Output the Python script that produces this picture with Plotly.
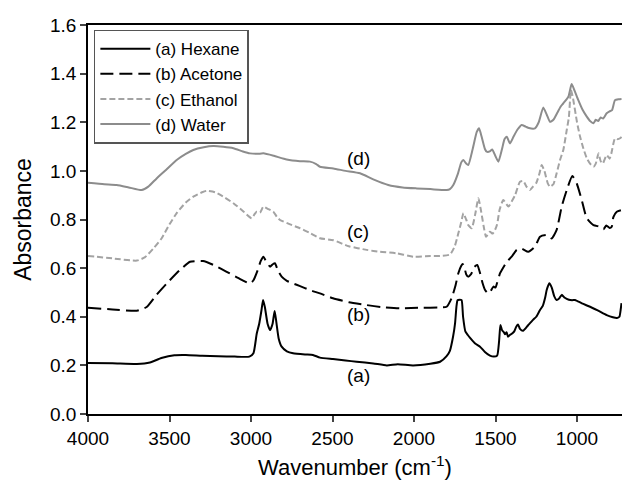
import plotly.graph_objects as go

# (a) Hexane
wn_a = [4000, 3850, 3700, 3620, 3550, 3470, 3400, 3300, 3200, 3100, 3010, 2985, 2965, 2950, 2935, 2926,
        2915, 2898, 2883, 2868, 2855, 2845, 2830, 2812, 2780, 2742, 2669, 2620, 2577, 2497, 2420, 2352,
        2250, 2167, 2100, 2006, 1900, 1840, 1800, 1780, 1760, 1748, 1740, 1733, 1720, 1708, 1699, 1685,
        1670, 1656, 1625, 1595, 1565, 1534, 1510, 1490, 1478, 1470, 1460, 1448, 1442, 1432, 1423, 1412,
        1400, 1385, 1372, 1362, 1350, 1331, 1300, 1270, 1250, 1227, 1210, 1195, 1186, 1170, 1155, 1140,
        1125, 1110, 1094, 1075, 1050, 1030, 1012, 970, 920, 870, 818, 780, 755, 740, 732, 727]
ab_a = [0.210, 0.209, 0.206, 0.212, 0.230, 0.242, 0.243, 0.240, 0.238, 0.236, 0.236, 0.250, 0.330, 0.370, 0.430, 0.469,
        0.440, 0.370, 0.345, 0.370, 0.424, 0.380, 0.310, 0.277, 0.258, 0.250, 0.245, 0.243, 0.232, 0.226, 0.220, 0.215,
        0.208, 0.200, 0.205, 0.200, 0.207, 0.215, 0.238, 0.260, 0.320, 0.374, 0.440, 0.468, 0.470, 0.468, 0.400, 0.340,
        0.325, 0.313, 0.290, 0.277, 0.255, 0.240, 0.236, 0.240, 0.300, 0.366, 0.345, 0.335, 0.328, 0.336, 0.318, 0.325,
        0.330, 0.340, 0.360, 0.368, 0.350, 0.342, 0.365, 0.387, 0.400, 0.428, 0.445, 0.480, 0.510, 0.538, 0.520, 0.485,
        0.469, 0.475, 0.490, 0.478, 0.470, 0.468, 0.469, 0.455, 0.441, 0.425, 0.407, 0.398, 0.395, 0.400, 0.430, 0.456]

# (b) Acetone
wn_b = [4000, 3850, 3700, 3640, 3580, 3517, 3440, 3374, 3294, 3220, 3149, 3080, 3006, 2985, 2960, 2940, 2924,
        2905, 2883, 2868, 2853, 2835, 2812, 2780, 2742, 2699, 2640, 2577, 2497, 2400, 2290, 2200, 2086, 1950,
        1850, 1800, 1769, 1745, 1728, 1710, 1701, 1690, 1680, 1668, 1650, 1630, 1612, 1595, 1580, 1564, 1544,
        1530, 1513, 1500, 1490, 1472, 1455, 1431, 1401, 1370, 1340, 1299, 1258, 1227, 1186, 1155, 1125, 1094,
        1063, 1029, 1002, 971, 940, 899, 858, 838, 820, 800, 787, 777, 756, 727]
ab_b = [0.437, 0.430, 0.425, 0.440, 0.490, 0.537, 0.590, 0.626, 0.629, 0.610, 0.585, 0.560, 0.537, 0.550, 0.590, 0.630, 0.647,
        0.625, 0.606, 0.615, 0.620, 0.590, 0.565, 0.548, 0.537, 0.526, 0.510, 0.496, 0.476, 0.460, 0.448, 0.440, 0.435, 0.437,
        0.438, 0.441, 0.477, 0.530, 0.579, 0.610, 0.617, 0.600, 0.575, 0.565, 0.575, 0.605, 0.613, 0.580, 0.540, 0.510, 0.496,
        0.505, 0.524, 0.520, 0.540, 0.579, 0.600, 0.626, 0.647, 0.675, 0.680, 0.667, 0.688, 0.729, 0.736, 0.722, 0.757, 0.853,
        0.921, 0.979, 0.949, 0.880, 0.805, 0.777, 0.770, 0.760, 0.775, 0.765, 0.770, 0.810, 0.832, 0.839]

# (c) Ethanol
wn_c = [4000, 3850, 3700, 3650, 3600, 3548, 3500, 3456, 3400, 3354, 3300, 3272, 3220, 3160, 3108, 3050, 2996,
        2980, 2965, 2945, 2924, 2900, 2863, 2840, 2822, 2760, 2699, 2640, 2577, 2495, 2400, 2290, 2209, 2106,
        2004, 1900, 1840, 1779, 1750, 1728, 1710, 1697, 1680, 1667, 1646, 1625, 1605, 1590, 1572, 1558, 1534,
        1518, 1503, 1490, 1475, 1452, 1421, 1400, 1380, 1350, 1329, 1310, 1289, 1270, 1250, 1230, 1217, 1200,
        1180, 1166, 1145, 1125, 1104, 1084, 1063, 1050, 1037, 1025, 1000, 981, 960, 940, 920, 899, 885, 868,
        855, 842, 818, 800, 790, 767, 750, 736, 727]
ab_c = [0.650, 0.640, 0.631, 0.645, 0.680, 0.723, 0.780, 0.826, 0.870, 0.894, 0.912, 0.918, 0.912, 0.890, 0.867, 0.835, 0.805,
        0.820, 0.832, 0.828, 0.853, 0.845, 0.832, 0.810, 0.798, 0.780, 0.764, 0.745, 0.723, 0.715, 0.690, 0.675, 0.667, 0.661,
        0.647, 0.650, 0.650, 0.656, 0.690, 0.743, 0.790, 0.826, 0.800, 0.777, 0.764, 0.820, 0.887, 0.840, 0.770, 0.729, 0.750,
        0.742, 0.757, 0.780, 0.840, 0.880, 0.853, 0.875, 0.900, 0.955, 0.958, 0.935, 0.921, 0.935, 0.950, 0.990, 1.024, 1.000,
        0.950, 0.935, 0.945, 0.990, 1.045, 1.086, 1.168, 1.220, 1.333, 1.300, 1.200, 1.140, 1.090, 1.052, 1.030, 1.017, 1.030, 1.072,
        1.040, 1.030, 1.065, 1.050, 1.070, 1.134, 1.130, 1.134, 1.140]

# (d) Water
wn_d = [4000, 3900, 3824, 3750, 3671, 3630, 3579, 3520, 3456, 3400, 3354, 3290, 3231, 3170, 3108, 3050, 3006,
        2960, 2924, 2860, 2781, 2700, 2638, 2600, 2577, 2495, 2420, 2331, 2250, 2158, 2070, 1984, 1900, 1800,
        1780, 1759, 1730, 1710, 1697, 1680, 1667, 1640, 1615, 1601, 1585, 1565, 1554, 1535, 1520, 1500, 1482,
        1460, 1445, 1431, 1411, 1390, 1365, 1340, 1315, 1295, 1258, 1235, 1207, 1185, 1166, 1145, 1120, 1100,
        1084, 1053, 1033, 1015, 992, 965, 940, 920, 899, 885, 870, 855, 840, 818, 800, 785, 767, 745, 727]
ab_d = [0.951, 0.945, 0.942, 0.932, 0.921, 0.935, 0.969, 1.005, 1.045, 1.070, 1.086, 1.097, 1.102, 1.099, 1.093, 1.080, 1.072,
        1.070, 1.072, 1.062, 1.047, 1.040, 1.038, 1.028, 1.017, 1.010, 1.000, 0.990, 0.965, 0.942, 0.932, 0.928, 0.925, 0.921,
        0.925, 0.942, 0.990, 1.035, 1.045, 1.030, 1.024, 1.090, 1.160, 1.175, 1.140, 1.090, 1.079, 1.080, 1.088, 1.060, 1.038,
        1.090, 1.130, 1.140, 1.113, 1.140, 1.170, 1.189, 1.182, 1.176, 1.175, 1.200, 1.261, 1.230, 1.202, 1.210, 1.240, 1.265,
        1.278, 1.305, 1.357, 1.330, 1.291, 1.250, 1.223, 1.205, 1.196, 1.210, 1.205, 1.220, 1.215, 1.237, 1.245, 1.250, 1.291, 1.295, 1.296]

names = ["(a) Hexane", "(b) Acetone", "(c) Ethanol", "(d) Water"]
label_text = ["(a)", "(b)", "(c)", "(d)"]
label_x = [2343, 2343, 2343, 2343]
label_y = [0.160, 0.411, 0.749, 1.049]

FONT = "Liberation Sans, Arial, sans-serif"

fig = go.Figure()
styles = [
    dict(color="black", width=2, dash="solid"),
    dict(color="black", width=2, dash="13px,6px"),
    dict(color="#a3a3a3", width=2, dash="6px,3px"),
    dict(color="#8c8c8c", width=2, dash="solid"),
]
for wn, ab, nm, st in zip([wn_a, wn_b, wn_c, wn_d], [ab_a, ab_b, ab_c, ab_d], names, styles):
    fig.add_trace(go.Scatter(x=wn, y=ab, mode="lines", name=nm, line=dict(shape="spline", smoothing=0.5, **st)))

for t, x, y in zip(label_text, label_x, label_y):
    fig.add_annotation(x=x, y=y, text=t, showarrow=False, font=dict(family=FONT, size=19, color="black"))

fig.update_layout(
    width=622, height=480,
    margin=dict(l=88, r=0, t=25, b=66),
    paper_bgcolor="white", plot_bgcolor="white",
    font=dict(family=FONT, size=19, color="black"),
    showlegend=True,
    legend=dict(x=0.011, y=0.988, xanchor="left", yanchor="top",
                bordercolor="#555555", borderwidth=1.5, bgcolor="white",
                font=dict(family=FONT, size=17), tracegroupgap=0, itemwidth=50),
    xaxis=dict(range=[4000, 724], tickvals=[4000, 3500, 3000, 2500, 2000, 1500, 1000],
               ticks="outside", ticklen=6, tickwidth=1.5, showline=True, linecolor="black", linewidth=1.5,
               mirror=True, showgrid=False, zeroline=False, tickfont=dict(size=19),
               title=dict(text="Wavenumber (cm<sup>-1</sup>)", font=dict(size=22), standoff=14)),
    yaxis=dict(range=[0, 1.6], tickvals=[0, 0.2, 0.4, 0.6, 0.8, 1.0, 1.2, 1.4, 1.6], tickformat=".1f",
               ticks="outside", ticklen=6, tickwidth=1.5, showline=True, linecolor="black", linewidth=1.5,
               showgrid=False, zeroline=False, tickfont=dict(size=19),
               title=dict(text="Absorbance", font=dict(size=23), standoff=12)),
)

fig.write_html("out.html")
